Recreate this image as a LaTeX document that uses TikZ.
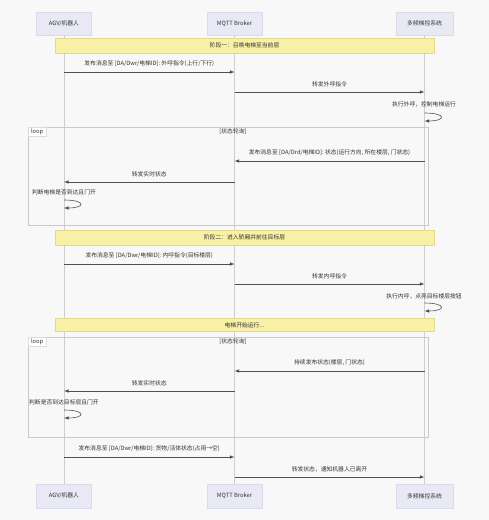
\documentclass[tikz,border=0pt]{standalone}
\usepackage{fontspec}
\setmainfont{Noto Sans CJK SC}
\usetikzlibrary{arrows,positioning}
\definecolor{bgcol}{HTML}{F8F8F8}
\definecolor{actorfill}{HTML}{E9E9F5}
\definecolor{actorline}{HTML}{DADAEA}
\definecolor{lifeline}{HTML}{CFCFCF}
\definecolor{msgline}{HTML}{505050}
\definecolor{notefill}{HTML}{F7F0A6}
\definecolor{noteline}{HTML}{E4DA8C}
\definecolor{frameline}{HTML}{C9C9C9}
\definecolor{tabline}{HTML}{DDDDDD}
\definecolor{txtcol}{HTML}{333333}

\begin{document}
\begin{tikzpicture}[x=1pt,y=-1pt,font=\fontsize{5.8}{6.8}\selectfont,text=txtcol]
\tikzstyle{actor}=[rectangle,draw=actorline,fill=actorfill,minimum width=55pt,minimum height=23pt,inner sep=1pt]
\tikzstyle{life}=[draw=lifeline,line width=0.6pt]
\tikzstyle{msg}=[draw=msgline,line width=0.6pt,-latex]
\tikzstyle{note}=[rectangle,draw=noteline,fill=notefill,minimum width=379pt,minimum height=15pt,inner sep=1pt]
\tikzstyle{frame}=[draw=frameline,line width=0.5pt]
\tikzstyle{lbl}=[inner sep=1pt]
\tikzstyle{looptab}=[lbl,anchor=north west,draw=tabline,fill=white,minimum width=18pt,minimum height=9pt]
\fill[bgcol] (0,0) rectangle (489,520);
\useasboundingbox (0,0) rectangle (489,520);

% actors
\node[actor] (agv) at (64,23.5) {AGV/机器人};
\node[actor] (mqtt) at (234.5,23.5) {MQTT Broker};
\node[actor,minimum width=57pt] (ctrl) at (424.5,23.5) {多频梯控系统};
\node[actor,minimum height=24pt] (agvb) at (64,496) {AGV/机器人};
\node[actor,minimum height=24pt] (mqttb) at (234.5,496) {MQTT Broker};
\node[actor,minimum width=57pt,minimum height=24pt] (ctrlb) at (424.5,496) {多频梯控系统};
\draw[life] (agv) -- (agvb);
\draw[life] (mqtt) -- (mqttb);
\draw[life] (ctrl) -- (ctrlb);

% loops
\draw[frame] (28,127) rectangle (428,225);
\node[looptab] (loop1) at (28,127) {loop};
\node[lbl] (cond1) at (233,132) {[状态轮询]};
\draw[frame] (28,337) rectangle (428,437);
\node[looptab] (loop2) at (28,337) {loop};
\node[lbl] (cond2) at (233,342) {[状态轮询]};

% notes
\node[note] (ph1) at (244.5,45.5) {阶段一：召唤电梯至当前层};
\node[note] (ph2) at (244.5,237.5) {阶段二：进入轿厢并前往目标层};
\node[note,minimum height=13pt] (ph3) at (244.5,325) {电梯开始运行...};

% rows
\coordinate (r1) at (0,72);
\coordinate (r2) at (0,92);
\coordinate (s1) at (0,113);
\coordinate (s1e) at (0,121);
\coordinate (r3) at (0,161);
\coordinate (r4) at (0,182);
\coordinate (s2) at (0,200);
\coordinate (s2e) at (0,208);
\coordinate (r5) at (0,264);
\coordinate (r6) at (0,284);
\coordinate (s3) at (0,303);
\coordinate (s3e) at (0,311);
\coordinate (r7) at (0,371);
\coordinate (r8) at (0,391);
\coordinate (s4) at (0,410);
\coordinate (s4e) at (0,418);
\coordinate (r9) at (0,457);
\coordinate (r10) at (0,477);

% phase 1
\draw[msg] (agv |- r1) -- node[lbl,above=4pt] {发布消息至 [DA/Dwr/电梯ID]: 外呼指令(上行/下行)} (mqtt |- r1);
\draw[msg] (mqtt |- r2) -- node[lbl,above=4pt] {转发外呼指令} (ctrl |- r2);
\node[lbl] (t1) at (424,104) {执行外呼，控制电梯运行};
\draw[msg] (ctrl |- s1) .. controls +(22,0) and +(22,0) .. (ctrl |- s1e);
\draw[msg] (ctrl |- r3) -- node[lbl,above=4pt] {发布消息至 [DA/Drd/电梯ID]: 状态(运行方向, 所在楼层, 门状态)} (mqtt |- r3);
\draw[msg] (mqtt |- r4) -- node[lbl,above=4pt] {转发实时状态} (agv |- r4);
\node[lbl] (t2) at (64,192) {判断电梯是否到达且门开};
\draw[msg] (agv |- s2) .. controls +(22,0) and +(22,0) .. (agv |- s2e);

% phase 2
\draw[msg] (agv |- r5) -- node[lbl,above=4pt] {发布消息至 [DA/Dwr/电梯ID]: 内呼指令(目标楼层)} (mqtt |- r5);
\draw[msg] (mqtt |- r6) -- node[lbl,above=4pt] {转发内呼指令} (ctrl |- r6);
\node[lbl] (t3) at (424,296) {执行内呼，点亮目标楼层按钮};
\draw[msg] (ctrl |- s3) .. controls +(22,0) and +(22,0) .. (ctrl |- s3e);
\draw[msg] (ctrl |- r7) -- node[lbl,above=4pt] {持续发布状态(楼层, 门状态)} (mqtt |- r7);
\draw[msg] (mqtt |- r8) -- node[lbl,above=4pt] {转发实时状态} (agv |- r8);
\node[lbl] (t4) at (64,402) {判断是否到达目标层且门开};
\draw[msg] (agv |- s4) .. controls +(22,0) and +(22,0) .. (agv |- s4e);
\draw[msg] (agv |- r9) -- node[lbl,above=4pt] {发布消息至 [DA/Dwr/电梯ID]: 货物/活体状态(占用→空)} (mqtt |- r9);
\draw[msg] (mqtt |- r10) -- node[lbl,above=4pt] {转发状态，通知机器人已离开} (ctrl |- r10);
\end{tikzpicture}
\end{document}
